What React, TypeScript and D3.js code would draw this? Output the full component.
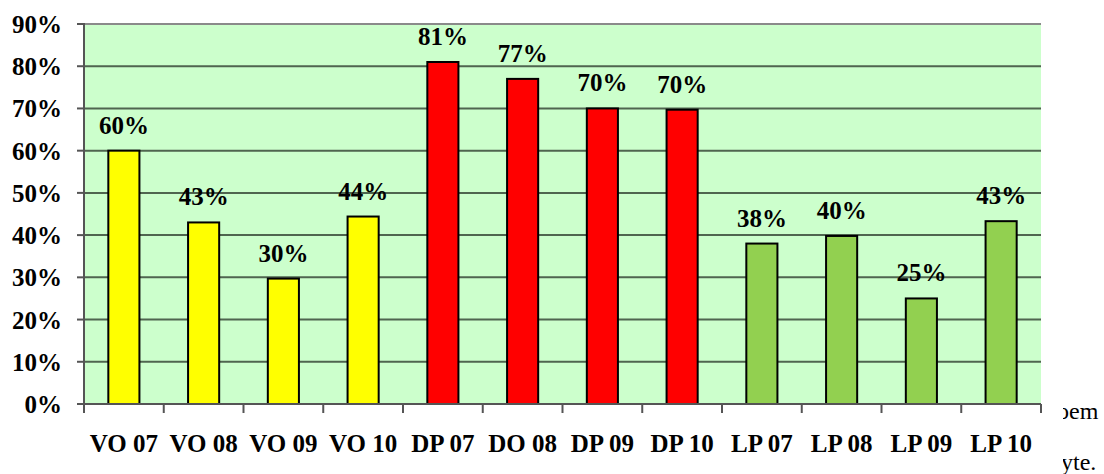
import React from "react";
import * as d3 from "d3";

const categories = ["VO 07", "VO 08", "VO 09", "VO 10", "DP 07", "DO 08", "DP 09", "DP 10", "LP 07", "LP 08", "LP 09", "LP 10"];
const values = [60, 43, 29.7, 44.4, 81, 77, 70, 69.7, 38, 39.8, 25, 43.3];
const labels = ["60%", "43%", "30%", "44%", "81%", "77%", "70%", "70%", "38%", "40%", "25%", "43%"];
const groups = ["VO", "VO", "VO", "VO", "DP", "DP", "DP", "DP", "LP", "LP", "LP", "LP"];
const groupColors: Record<string, string> = { VO: "#ffff00", DP: "#ff0000", LP: "#92d050" };
const yTicks = [0, 10, 20, 30, 40, 50, 60, 70, 80, 90];

const W = 1104, H = 474;
const left = 84, right = 1041, top = 24, bottom = 404;
const serif = "Liberation Serif, Times New Roman, DejaVu Serif, serif";
const boldStyle = (size: number): React.CSSProperties => ({ fontFamily: serif, fontWeight: 700, fontSize: size + "px" });

export default function App() {
  const x = d3.scaleBand<string>().domain(categories).range([left, right]).paddingInner(0).paddingOuter(0);
  const y = d3.scaleLinear().domain([0, 90]).range([bottom, top]);
  const bw = x.bandwidth() * 0.39;
  return (
    <svg width={W} height={H} style={{ position: "absolute", left: 0, top: 0, background: "#fff" }}>
      <defs>
        <clipPath id="rc"><rect x={1063} y={380} width={60} height={100} /></clipPath>
      </defs>
      <rect x={left} y={top} width={right - left} height={bottom - top} fill="#ccffcc" />
      {yTicks.filter(t => t > 0 && t < 90).map(t => (
        <line key={t} x1={left} x2={right} y1={y(t)} y2={y(t)} stroke="#4f654f" strokeWidth={2} />
      ))}
      <line x1={left} x2={right} y1={y(90)} y2={y(90)} stroke="#8a8a8a" strokeWidth={2} />
      {categories.map((c, i) => {
        const cx = (x(c) as number) + x.bandwidth() / 2;
        return (
          <g key={c}>
            <rect x={cx - bw / 2} y={y(values[i])} width={bw} height={bottom - y(values[i])}
              fill={groupColors[groups[i]]} stroke="#000" strokeWidth={2} />
            <text x={cx} y={y(values[i]) - 17} textAnchor="middle" style={boldStyle(25)} fill="#000">{labels[i]}</text>
            <text x={cx} y={452} textAnchor="middle" style={boldStyle(25)} fill="#000">{c}</text>
          </g>
        );
      })}
      <line x1={left} x2={left} y1={top - 1} y2={bottom} stroke="#555" strokeWidth={2} />
      <line x1={left - 7} x2={right} y1={bottom} y2={bottom} stroke="#555" strokeWidth={2} />
      {yTicks.map(t => (
        <g key={t}>
          <line x1={left - 7} x2={left} y1={y(t)} y2={y(t)} stroke="#555" strokeWidth={2} />
          <text x={62} y={y(t) + 9} textAnchor="end" style={boldStyle(25)} fill="#000">{t}%</text>
        </g>
      ))}
      {categories.map((c, i) => (
        <line key={"t" + i} x1={(x(c) as number)} x2={(x(c) as number)} y1={bottom} y2={bottom + 9} stroke="#555" strokeWidth={2} />
      ))}
      <line x1={right} x2={right} y1={bottom} y2={bottom + 9} stroke="#555" strokeWidth={2} />
      <g clipPath="url(#rc)">
        <text x={1057} y={419} style={{ fontFamily: serif, fontSize: "24px" }} fill="#000">oem</text>
        <text x={1049} y={470} style={{ fontFamily: serif, fontSize: "24px" }} fill="#000">byte.</text>
      </g>
    </svg>
  );
}
